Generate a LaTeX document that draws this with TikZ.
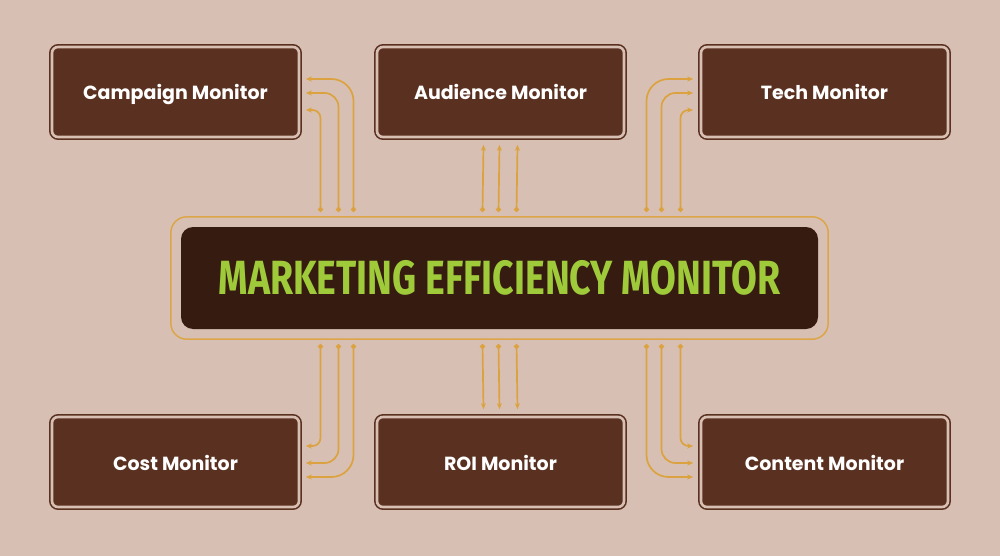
\documentclass[tikz,border=0pt]{standalone}
\usepackage{fontspec}
\usetikzlibrary{arrows.meta,fit}
\newfontfamily\boxfont{Poppins}
\newfontfamily\titlefont[FakeStretch=0.78]{Fira Sans}
\definecolor{bgtan}{HTML}{D7C0B3}
\definecolor{boxbrown}{HTML}{5A3020}
\definecolor{coredark}{HTML}{361B10}
\definecolor{titlegreen}{HTML}{9FCB3A}
\definecolor{wireorange}{HTML}{DCA23F}
\definecolor{frameorange}{HTML}{DCA548}
\tikzset{
  monitor/.style={draw=boxbrown,fill=boxbrown,line width=1.6pt,double=bgtan,
    double distance=2.6pt,rounded corners=6pt,minimum width=247pt,
    minimum height=90pt,text=white,text height=18pt,text depth=2pt,
    font=\boxfont\bfseries\fontsize{19}{22}\selectfont},
  wire/.style={draw=wireorange,line width=1.7pt},
  tipped/.style={wire,{Circle[length=5pt]}-{Stealth[length=6pt,width=5pt]}}
}
\begin{document}
\begin{tikzpicture}[x=1pt,y=-1pt]
\useasboundingbox[fill=bgtan] (0,0) rectangle (1000,556);
% monitor boxes
\node[monitor] (campaign) at (175.5,92) {Campaign Monitor};
\node[monitor] (audience) at (500.5,92) {Audience Monitor};
\node[monitor] (tech) at (824.5,92) {Tech Monitor};
\node[monitor] (cost) at (175.5,462) {Cost Monitor};
\node[monitor] (roi) at (500.5,462) {ROI Monitor};
\node[monitor] (content) at (824.5,462) {Content Monitor};
% central monitor
\node[fill=coredark,rounded corners=12pt,minimum width=637pt,minimum height=102pt,
  text=titlegreen,font=\titlefont\bfseries\fontsize{48}{54}\selectfont] (core) at (499.5,278)
  {MARKETING EFFICIENCY MONITOR};
\node[fit=(core),inner sep=10pt,draw=frameorange,line width=1.5pt,rounded corners=16pt] (frame) {};
% top connectors
\foreach \dx/\dy/\r in {-146/13/22,-161/-1/14,-179/-18/8}
  \draw[tipped,rounded corners=\r pt] ([xshift=\dx pt,yshift=4pt]frame.north)
    |- ([xshift=6pt,yshift=\dy pt]campaign.east);
\foreach \dx/\dy/\r in {147/13/22,162/-1/14,181/-18/8}
  \draw[tipped,rounded corners=\r pt] ([xshift=\dx pt,yshift=4pt]frame.north)
    |- ([xshift=-7pt,yshift=\dy pt]tech.west);
\foreach \dx in {-17,-1,17}
  \draw[tipped] ([xshift=\dx pt,yshift=4pt]frame.north) -- ([xshift=\dx pt,yshift=-7pt]audience.south);
% bottom connectors
\foreach \dx/\dy/\r in {-146/-15/22,-161/-1/14,-179/16/8}
  \draw[tipped,rounded corners=\r pt] ([xshift=\dx pt,yshift=-4pt]frame.south)
    |- ([xshift=6pt,yshift=\dy pt]cost.east);
\foreach \dx/\dy/\r in {147/-15/22,162/-1/14,181/16/8}
  \draw[tipped,rounded corners=\r pt] ([xshift=\dx pt,yshift=-4pt]frame.south)
    |- ([xshift=-7pt,yshift=\dy pt]content.west);
\foreach \dx in {-17,-1,17}
  \draw[tipped] ([xshift=\dx pt,yshift=-4pt]frame.south) -- ([xshift=\dx pt,yshift=7pt]roi.north);
\end{tikzpicture}
\end{document}
